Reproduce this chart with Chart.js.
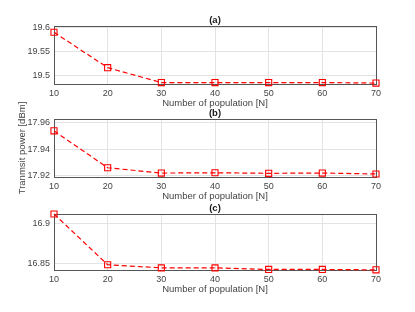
<!DOCTYPE html>
<html>
<head>
<meta charset="utf-8">
<script src="https://cdn.jsdelivr.net/npm/chart.js@4.4.0/dist/chart.umd.min.js"></script>
<style>
  body { margin: 0; background: #ffffff; }
  #wrap { position: relative; width: 415px; height: 312px; }
  #wrap canvas { position: absolute; left: 0; top: 0; }
</style>
</head>
<body>
<div id="wrap">
  <canvas id="chartA" width="415" height="312"></canvas>
  <canvas id="chartB" width="415" height="312"></canvas>
  <canvas id="chartC" width="415" height="312"></canvas>
</div>
<script>
const POPULATION = [10, 20, 30, 40, 50, 60, 70];
const X_TICKS = [10, 20, 30, 40, 50, 60, 70];

const POWER_A = [19.590, 19.516, 19.485, 19.485, 19.485, 19.485, 19.484];
const POWER_B = [17.954, 17.926, 17.922, 17.9222, 17.9218, 17.922, 17.9213];
const POWER_C = [16.9127, 16.848, 16.844, 16.844, 16.842, 16.842, 16.8415];

const Y_TICKS_A = [19.5, 19.55, 19.6];
const Y_TICKS_B = [17.92, 17.94, 17.96];
const Y_TICKS_C = [16.85, 16.9];

const TEXT_COLOR = '#444444';
const GRID_COLOR = '#e3e3e3';
const BOX_COLOR = '#555555';
const LINE_RED = '#ff0000';
const FONT = 'Liberation Sans, Arial, Helvetica, sans-serif';

const W = 415;
const H = 312;
const Y_AXIS_W = 54;
const X_AXIS_H = 26;

const boxPlugin = {
  id: 'box_and_label',
  beforeDatasetsDraw: (chart) => {
    const { ctx, chartArea } = chart;
    ctx.save();
    ctx.strokeStyle = BOX_COLOR;
    ctx.lineWidth = 1;
    ctx.strokeRect(Math.round(chartArea.left) + 0.5, Math.round(chartArea.top) + 0.5,
      Math.round(chartArea.right - chartArea.left), Math.round(chartArea.bottom - chartArea.top));
    ctx.restore();
  },
  afterDraw: (chart, args, options) => {
    const { ctx, chartArea } = chart;
    ctx.save();
    ctx.fillStyle = '#1a1a1a';
    ctx.font = 'bold 9.5px ' + FONT;
    ctx.textAlign = 'center';
    ctx.textBaseline = 'middle';
    ctx.fillText(options.text, (chartArea.left + chartArea.right) / 2, chartArea.top - 5.5);
    ctx.restore();
  }
};

const makePanel = (id, values, yMin, yMax, yTicks, label, top, bottom, yTitle) => {
  return new Chart(document.getElementById(id), {
    type: 'line',
    data: {
      datasets: [{
        data: POPULATION.map((n, i) => ({ x: n, y: values[i] })),
        borderColor: LINE_RED,
        borderWidth: 1.2,
        borderDash: [5, 3],
        pointStyle: 'rect',
        pointRadius: 4.3,
        pointBorderWidth: 1.1,
        pointBorderColor: LINE_RED,
        pointBackgroundColor: 'rgba(0,0,0,0)',
        fill: false,
        tension: 0,
        clip: false,
      }]
    },
    options: {
      responsive: false,
      animation: false,
      devicePixelRatio: 1,
      layout: {
        padding: { left: 0, right: W - 376, top: top, bottom: H - bottom - X_AXIS_H }
      },
      plugins: {
        legend: { display: false },
        tooltip: { enabled: false },
        title: { display: false },
        box_and_label: { text: label },
      },
      scales: {
        x: {
          type: 'linear',
          min: 10,
          max: 70,
          afterBuildTicks: (scale) => { scale.ticks = X_TICKS.map(v => ({ value: v })); },
          afterFit: (scale) => { scale.height = X_AXIS_H; },
          grid: { color: GRID_COLOR, drawTicks: false },
          border: { display: false },
          ticks: {
            color: TEXT_COLOR,
            padding: 4,
            maxRotation: 0,
            font: { family: FONT, size: 9 },
            callback: (v) => String(v),
          },
          title: {
            display: true,
            text: 'Number of population [N]',
            color: TEXT_COLOR,
            font: { family: FONT, size: 9.5 },
            padding: { top: 0, bottom: 0.5 },
          }
        },
        y: {
          min: yMin,
          max: yMax,
          afterBuildTicks: (scale) => { scale.ticks = yTicks.map(v => ({ value: v })); },
          afterFit: (scale) => { scale.width = Y_AXIS_W; },
          grid: { color: GRID_COLOR, drawTicks: false },
          border: { display: false },
          ticks: {
            color: TEXT_COLOR,
            padding: 4,
            font: { family: FONT, size: 9 },
            callback: (v) => String(v),
          },
          title: {
            display: !!yTitle,
            text: yTitle || '',
            color: TEXT_COLOR,
            font: { family: FONT, size: 9.5 },
            padding: { top: 17, bottom: 0 },
          }
        }
      }
    },
    plugins: [boxPlugin]
  });
};

const chartA = makePanel('chartA', POWER_A, 19.482, 19.603, Y_TICKS_A, '(a)', 26, 84, null);
const chartB = makePanel('chartB', POWER_B, 17.919, 17.963, Y_TICKS_B, '(b)', 119, 177, 'Tranmsit power [dBm]');
const chartC = makePanel('chartC', POWER_C, 16.8413, 16.9127, Y_TICKS_C, '(c)', 214, 270, null);
</script>
</body>
</html>
